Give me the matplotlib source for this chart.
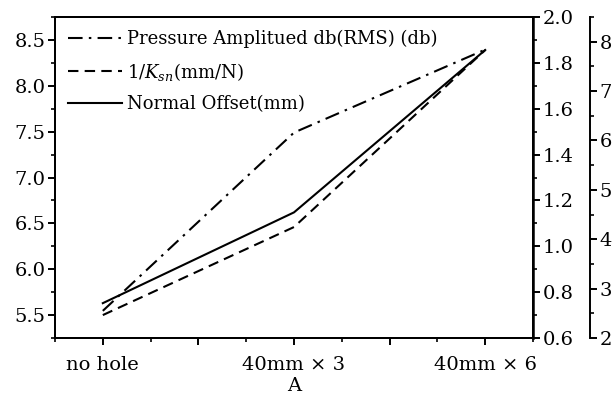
import numpy as np
import matplotlib
matplotlib.use('Agg')
import matplotlib.pyplot as plt
from matplotlib.ticker import MultipleLocator, FixedLocator, FixedFormatter

plt.rcParams['font.family'] = 'DejaVu Serif'
plt.rcParams['mathtext.fontset'] = 'dejavuserif'

# data
categories = ['no hole', '40mm × 3', '40mm × 6']
normal_offset = [5.63, 6.62, 8.39]       # left axis
inv_ksn = [0.70, 1.084, 1.856]           # inner right axis
pressure_db = [2.55, 6.16, 7.84]         # outer right axis

x = np.arange(len(categories))

fig = plt.figure(figsize=(6.14, 4.05), dpi=100)
ax = fig.add_axes([0.0896, 0.1654, 0.7785, 0.7926])
ax2 = ax.twinx()
ax3 = ax.twinx()
ax3.spines['right'].set_position(('outward', 41))   # points, ~57 px

lw = 1.5
l3, = ax3.plot(x, pressure_db, color='black', lw=lw, linestyle=(0, (7, 3, 1.2, 3)),
               label='Pressure Amplitued db(RMS) (db)')
l2, = ax2.plot(x, inv_ksn, color='black', lw=lw, linestyle=(0, (5, 3)),
               label=r'1/$K_{sn}$(mm/N)')
l1, = ax.plot(x, normal_offset, color='black', lw=lw, linestyle='-',
              label='Normal Offset(mm)')

ax.set_xlim(-0.25, 2.25)
ax.set_ylim(5.25, 8.75)
ax2.set_ylim(0.6, 2.0)
ax3.set_ylim(2, 8.5)

ax.xaxis.set_major_locator(FixedLocator([0, 0.5, 1, 1.5, 2]))
ax.xaxis.set_major_formatter(FixedFormatter([categories[0], '', categories[1], '', categories[2]]))
ax.xaxis.set_minor_locator(MultipleLocator(0.25))
ax.yaxis.set_major_locator(MultipleLocator(0.5))
ax.yaxis.set_minor_locator(MultipleLocator(0.25))
ax2.yaxis.set_major_locator(MultipleLocator(0.2))
ax2.yaxis.set_minor_locator(MultipleLocator(0.1))
ax2.yaxis.set_major_formatter(matplotlib.ticker.FormatStrFormatter('%.1f'))
ax3.yaxis.set_major_locator(MultipleLocator(1))
ax3.yaxis.set_minor_locator(MultipleLocator(0.5))

for a in (ax, ax2, ax3):
    for s in a.spines.values():
        s.set_linewidth(1.4)
    a.tick_params(which='major', length=5, width=1.4, labelsize=14, direction='out', pad=2)
    a.tick_params(which='minor', length=3, width=1.2, direction='out')
ax.tick_params(axis='x', which='major', pad=8)
ax3.spines['top'].set_visible(False)
ax3.spines['left'].set_visible(False)
ax3.spines['bottom'].set_visible(False)
ax2.spines['right'].set_linewidth(1.8)

ax.set_xlabel('A', fontsize=14, labelpad=2)

ax.legend(handles=[l3, l2, l1], loc='upper left', frameon=False, fontsize=13,
          handlelength=3.0, handletextpad=0.3, labelspacing=0.7,
          borderaxespad=0.3, bbox_to_anchor=(0.0, 1.0))

fig.savefig('out.png', dpi=100)
